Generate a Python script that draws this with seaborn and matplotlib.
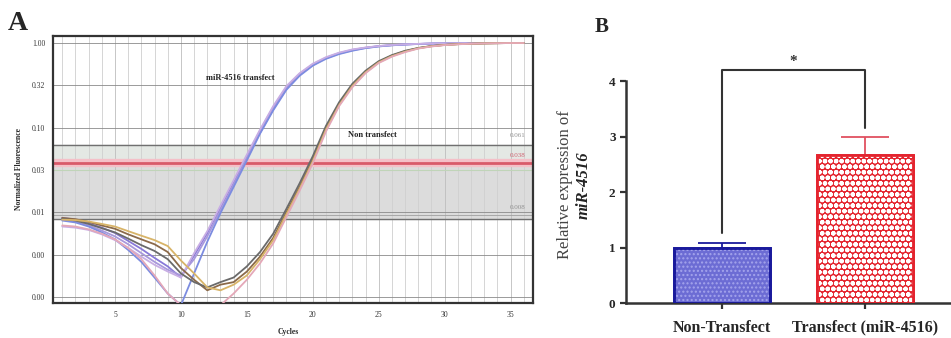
import numpy as np
import pandas as pd
import matplotlib
matplotlib.use("Agg")
import matplotlib.pyplot as plt
import seaborn as sns

# ---------------- data ----------------
cycles = list(range(1, 37))

transfect_1 = [0.0086,0.0082,0.0074,0.0066,0.0057,0.0046,0.0037,0.0029,0.0023,0.0017,0.0031,0.0057,0.0115,0.023,0.046,0.092,0.175,0.30,0.43,0.56,0.67,0.76,0.83,0.88,0.92,0.945,0.963,0.976,0.985,0.99,0.994,0.996,0.998,0.999,1.0,1.0]
transfect_2 = [0.0084,0.0078,0.0070,0.0061,0.0052,0.0042,0.0033,0.0026,0.0021,0.0018,0.0028,0.0052,0.0105,0.021,0.043,0.087,0.165,0.29,0.42,0.55,0.66,0.75,0.82,0.875,0.915,0.94,0.96,0.974,0.984,0.99,0.994,0.996,0.998,0.999,1.0,1.0]
transfect_3 = [0.0080,0.0076,0.0068,0.0058,0.0048,0.0036,0.0026,0.0017,0.0011,0.0008,0.0019,0.0045,0.0098,0.020,0.041,0.085,0.16,0.28,0.41,0.54,0.65,0.74,0.81,0.87,0.91,0.94,0.96,0.974,0.984,0.99,0.994,0.996,0.998,0.999,1.0,1.0]
transfect_4 = [0.0068,0.0066,0.0062,0.0055,0.0047,0.0038,0.0030,0.0024,0.0020,0.0017,0.0033,0.0060,0.012,0.024,0.048,0.095,0.18,0.31,0.44,0.57,0.68,0.77,0.84,0.885,0.92,0.948,0.965,0.977,0.986,0.991,0.995,0.997,0.998,0.999,1.0,1.0]

non_1 = [0.0086,0.0083,0.0077,0.0070,0.0064,0.0055,0.0048,0.0042,0.0034,0.0022,0.0016,0.0012,0.0014,0.0015,0.0020,0.0030,0.0050,0.0100,0.020,0.042,0.100,0.19,0.32,0.46,0.60,0.71,0.80,0.87,0.92,0.95,0.97,0.98,0.99,0.995,1.0,1.0]
non_2 = [0.0084,0.0080,0.0073,0.0065,0.0058,0.0049,0.0041,0.0035,0.0028,0.0019,0.0015,0.0013,0.0015,0.0017,0.0023,0.0034,0.0056,0.011,0.022,0.046,0.105,0.20,0.33,0.47,0.61,0.72,0.81,0.875,0.92,0.95,0.97,0.98,0.99,0.995,1.0,1.0]
non_3 = [0.0082,0.0081,0.0078,0.0073,0.0068,0.0060,0.0053,0.0047,0.0040,0.0027,0.0019,0.0013,0.0012,0.0014,0.0018,0.0028,0.0047,0.0095,0.019,0.040,0.095,0.185,0.31,0.45,0.59,0.70,0.79,0.865,0.915,0.948,0.968,0.98,0.99,0.995,1.0,1.0]
non_4 = [0.0070,0.0068,0.0063,0.0056,0.0048,0.0038,0.0028,0.0018,0.0011,0.0008,0.0006,0.0006,0.0008,0.0011,0.0016,0.0025,0.0043,0.0088,0.018,0.038,0.090,0.18,0.30,0.44,0.58,0.69,0.78,0.86,0.91,0.945,0.966,0.98,0.99,0.995,1.0,1.0]

curve_series = [transfect_1, transfect_2, transfect_3, transfect_4, non_1, non_2, non_3, non_4]
curve_colors = ["#8878d8", "#a898dc", "#7c8ce0", "#c8aee4", "#8b6a4a", "#6a6a6a", "#d8b468", "#e4a8b8"]

band_low, band_high = 0.0084, 0.0625
threshold = 0.038
band_labels = ["0.061", "0.038", "0.008"]

a_yticks = [1.0, 0.316, 0.1, 0.0316, 0.01, 0.00316, 0.001]
a_xticks = [5, 10, 15, 20, 25, 30, 35]

categories = ["Non-Transfect", "Transfect (miR-4516)"]
means = [1.0, 2.67]
errors = [0.08, 0.33]
b_yticks = [0, 1, 2, 3, 4]

# ---------------- style ----------------
sns.set_style("white")
plt.rcParams["font.family"] = ["Liberation Serif", "DejaVu Serif"]

fig = plt.figure(figsize=(9.51, 3.38), dpi=100)

# ================= Panel A =================
axA = fig.add_axes([53/951, 1-303/338, 480/951, 267/338])
axA.set_yscale("log")
axA.set_ylim(0.00085, 1.21)
axA.set_xlim(0.3, 36.7)

# band and threshold
axA.axhspan(band_low, band_high, color="#dcdcdc", zorder=0)
axA.axhspan(threshold, band_high, color="#e4e8e4", zorder=0)
axA.axhline(band_high, color="#707070", lw=1.0, zorder=1)
axA.axhline(band_low, color="#707070", lw=1.0, zorder=1)
axA.axhline(band_low * 1.12, color="#a0a0a0", lw=0.6, zorder=1)
axA.axhline(threshold, color="#f4c0c8", lw=6, zorder=1)
axA.axhline(threshold, color="#d85a6a", lw=2.0, zorder=1)
axA.axhline(threshold * 0.83, color="#c0d4b8", lw=0.8, zorder=1)

# grid
axA.set_xticks(cycles, minor=True)
axA.grid(True, which="minor", axis="x", color="#cfcfcf", lw=0.6)
axA.grid(True, which="major", axis="y", color="#8a8a8a", lw=0.6)
axA.grid(True, which="major", axis="x", color="#bdbdbd", lw=0.6)
axA.set_axisbelow(True)

for vals, col in zip(curve_series, curve_colors):
    sns.lineplot(x=cycles, y=vals, ax=axA, color=col, lw=1.3, zorder=3)

axA.set_yticks(a_yticks)
axA.set_yticklabels([f"{v:.2f}" for v in a_yticks])
axA.yaxis.set_minor_locator(matplotlib.ticker.NullLocator())
axA.set_xticks(a_xticks)
axA.tick_params(axis="both", labelsize=5.5, length=2, color="#555555", labelcolor="#333333")
axA.tick_params(axis="x", which="minor", length=0)
for s in axA.spines.values():
    s.set_color("#333333")
    s.set_linewidth(1.6)

axA.set_xlabel("Cycles", fontsize=5.5, fontweight="bold")
axA.xaxis.set_label_coords(0.49, -0.095)
axA.set_ylabel("Normalized Fluorescence", fontsize=5.5, fontweight="bold")
axA.yaxis.set_label_coords(-0.062, 0.5)

axA.text(0.39, 0.843, "miR-4516 transfect", transform=axA.transAxes, fontsize=6,
         fontweight="bold", ha="center", va="center", color="#222222")
axA.text(0.665, 0.63, "Non transfect", transform=axA.transAxes, fontsize=6,
         fontweight="bold", ha="center", va="center", color="#222222")
for lab, yv, col in zip(band_labels, [band_high * 1.28, threshold * 1.22, band_low * 1.35],
                        ["#909090", "#d06070", "#909090"]):
    axA.text(0.985, yv, lab, transform=axA.get_yaxis_transform(), fontsize=5,
             ha="right", va="center", color=col)

fig.text(8/951, 1-24/338, "A", fontsize=20, fontweight="bold", va="center", ha="left")

# ================= Panel B =================
axB = fig.add_axes([626/951, 1-303/338, 325/951, 253/338])
df = pd.DataFrame({"group": categories, "value": means})
face_cols = ["#6c6cd4", "#e4242e"]
edge_cols = ["#1a1a9c", "#e4242e"]
hatch_cols = ["#a4a4ec", "#ffffff"]
hatches = ["....", "ooo"]
hatch_lws = [1.0, 1.6]
sns.barplot(data=df, x="group", y="value", hue="group", palette=face_cols, ax=axB,
            width=0.67, legend=False, saturation=1)
for patch, ec, hc, ht, hlw in zip(list(axB.patches), edge_cols, hatch_cols, hatches, hatch_lws):
    patch.set_edgecolor(ec)
    patch.set_linewidth(2.0)
    x0, y0 = patch.get_x(), patch.get_y()
    w, h = patch.get_width(), patch.get_height()
    with plt.rc_context({"hatch.linewidth": hlw}):
        hp = matplotlib.patches.Rectangle((x0, y0), w, h, facecolor="none", edgecolor=hc,
                                          hatch=ht, lw=0, zorder=2.5)
    axB.add_patch(hp)
    op = matplotlib.patches.Rectangle((x0, y0), w, h, facecolor="none", edgecolor=ec,
                                      lw=2.0, zorder=2.6)
    axB.add_patch(op)

for i, (m, e, c) in enumerate(zip(means, errors, ["#1a1a9c", "#e05060"])):
    axB.errorbar([i], [m], yerr=[[0], [e]], fmt="none", ecolor=c, elinewidth=1.3,
                 capsize=17, capthick=1.3, zorder=1)

# significance bracket
top = 4.2
axB.plot([0, 0, 1, 1], [means[0] + errors[0] + 0.18, top, top, means[1] + errors[1] + 0.15],
         color="#333333", lw=1.5)
axB.text(0.5, top + 0.03, "*", ha="center", va="bottom", fontsize=11, fontweight="bold", color="#333333")

axB.set_ylim(0, 4.56)
axB.set_xlim(-0.67, 1.6)
axB.set_yticks(b_yticks)
axB.set_yticklabels([str(v) for v in b_yticks], fontsize=9.5, fontweight="bold")
axB.set_xticks([0, 1])
axB.set_xticklabels(categories, fontsize=11.5, fontweight="bold")
axB.tick_params(axis="both", direction="out", length=4, width=1.6, color="#333333", bottom=True, left=True)
axB.tick_params(axis="x", pad=8)
sns.despine(ax=axB, top=True, right=True)
axB.spines["left"].set_bounds(0, 4)
for s in ["left", "bottom"]:
    axB.spines[s].set_linewidth(1.8)
    axB.spines[s].set_color("#333333")
axB.set_xlabel("")
axB.set_ylabel("")
fig.text(565/951, 1-185/338, "Relative expression of", rotation=90, fontsize=12,
         ha="center", va="center", color="#444444")
fig.text(584/951, 1-185/338, "miR-4516", rotation=90, fontsize=12, fontweight="bold",
         style="italic", ha="center", va="center", color="#222222")
fig.text(602/951, 1-27/338, "B", fontsize=15, fontweight="bold", va="center", ha="center")

fig.savefig("out.png", dpi=100)
